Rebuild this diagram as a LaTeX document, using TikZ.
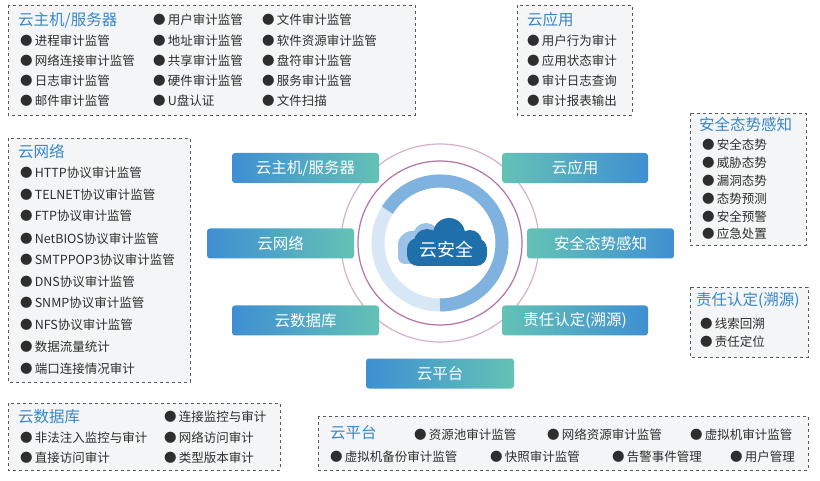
\documentclass[tikz,border=0pt]{standalone}
\usepackage{fontspec}
\setmainfont{Noto Sans CJK SC}
\usetikzlibrary{shapes.geometric}
\definecolor{tblue}{HTML}{3A86C6}
\definecolor{pblue}{HTML}{3F8FD2}
\definecolor{pteal}{HTML}{63C2B6}
\definecolor{txt}{HTML}{2E2E2E}
\definecolor{boxbg}{HTML}{F4F5F6}
\definecolor{ringd}{HTML}{7FB2DE}
\definecolor{ringl}{HTML}{D8E7F5}
\definecolor{purp}{HTML}{A0508F}
\definecolor{cloudd}{HTML}{1F70AA}
\definecolor{cloudl}{HTML}{9CC3E6}
\tikzset{
 grp/.style={draw=gray!70!black,dashed,fill=boxbg,line width=0.8pt},
 ttl/.style={anchor=west,text=tblue,font=\fontsize{15.5}{15.5}\selectfont,inner sep=0pt},
 it/.style={anchor=west,text=txt,font=\fontsize{12.5}{12.5}\selectfont,inner sep=0pt},
 pillL/.style={rounded corners=3pt,left color=pblue,right color=pteal,draw=none},
 pillR/.style={rounded corners=3pt,left color=pteal,right color=pblue,draw=none},
 pl/.style={text=white,font=\fontsize{15.5}{15.5}\selectfont,inner sep=0pt}
}
\newcommand\li[3]{\node[it] (#1) at (#2) {●\,#3};}
\begin{document}
\begin{tikzpicture}[x=1pt,y=-1pt]
\useasboundingbox[fill=white] (0,0) rectangle (820,481);
% groups
\draw[grp] (8,5) rectangle (415,115);
\node[ttl] (t1) at (18,20) {云主机/服务器};
\li{a1}{20,41}{进程审计监管}\li{a2}{20,61}{网络连接审计监管}\li{a3}{20,81}{日志审计监管}\li{a4}{20,101}{邮件审计监管}
\li{a5}{153,20}{用户审计监管}\li{a6}{153,41}{地址审计监管}\li{a7}{153,61}{共享审计监管}\li{a8}{153,81}{硬件审计监管}\li{a9}{153,101}{U盘认证}
\li{a10}{262,20}{文件审计监管}\li{a11}{262,41}{软件资源审计监管}\li{a12}{262,61}{盘符审计监管}\li{a13}{262,81}{服务审计监管}\li{a14}{262,101}{文件扫描}
\draw[grp] (517,5) rectangle (632,115);
\node[ttl] (t2) at (527,20) {云应用};
\li{b1}{527,41}{用户行为审计}\li{b2}{527,61}{应用状态审计}\li{b3}{527,81}{审计日志查询}\li{b4}{527,101}{审计报表输出}
\draw[grp] (690,113) rectangle (806,245);
\node[ttl] (t3) at (699,125) {安全态势感知};
\li{c1}{702,145}{安全态势}\li{c2}{702,163}{威胁态势}\li{c3}{702,181}{漏洞态势}\li{c4}{702,199}{态势预测}\li{c5}{702,217}{安全预警}\li{c6}{702,234}{应急处置}
\draw[grp] (690,287) rectangle (808,357);
\node[ttl] (t4) at (696,300) {责任认定(溯源)};
\li{d1}{700,324}{线索回溯}\li{d2}{700,342}{责任定位}
\draw[grp] (8,138) rectangle (190,382);
\node[ttl] (t5) at (18,152) {云网络};
\li{e1}{20,173}{HTTP协议审计监管}\li{e2}{20,195}{TELNET协议审计监管}\li{e3}{20,216}{FTP协议审计监管}\li{e4}{20,239}{NetBIOS协议审计监管}\li{e5}{20,260}{SMTPPOP3协议审计监管}
\li{e6}{20,282}{DNS协议审计监管}\li{e7}{20,303}{SNMP协议审计监管}\li{e8}{20,325}{NFS协议审计监管}\li{e9}{20,347}{数据流量统计}\li{e10}{20,369}{端口连接情况审计}
\draw[grp] (8,403) rectangle (280,470);
\node[ttl] (t6) at (18,417) {云数据库};
\li{f1}{20,438}{非法注入监控与审计}\li{f2}{20,458}{直接访问审计}
\li{f3}{164,417}{连接监控与审计}\li{f4}{164,438}{网络访问审计}\li{f5}{164,458}{类型版本审计}
\draw[grp] (318,416) rectangle (808,470);
\node[ttl] (t7) at (330,433) {云平台};
\li{g1}{414,435}{资源池审计监管}\li{g2}{547,435}{网络资源审计监管}\li{g3}{690,435}{虚拟机审计监管}
\li{g4}{330,457}{虚拟机备份审计监管}\li{g5}{490,457}{快照审计监管}\li{g6}{612,457}{告警事件管理}\li{g7}{730,457}{用户管理}
% circles
\coordinate (O) at (440,243);
\draw[purp!45,line width=1.2pt] (O) circle[radius=99];
\draw[purp!80,line width=1.2pt] (O) circle[radius=82];
\draw[ringl,line width=13pt] (O) circle[radius=62];
\draw[ringd,line width=13pt] (O) ++(90:62) arc[start angle=90,end angle=-148,radius=62];
% cloud
\fill[cloudl] (412,245) circle[radius=14];
\fill[cloudl] (426,236) circle[radius=13];
\fill[cloudl, rounded corners=7pt] (398,240) rectangle (432,264);
\fill[cloudd] (427,242) circle[radius=13];
\fill[cloudd] (449,234) circle[radius=16];
\fill[cloudd] (470,242) circle[radius=12];
\fill[cloudd,rounded corners=11pt] (407,238) rectangle (487,266);
\node[pl,font=\fontsize{18}{18}\selectfont] (cs) at (446,250) {云安全};
% pills
\node[pillL,minimum width=147pt,minimum height=30pt] (p1) at (305.5,168) {};
\node[pl] at (p1) {云主机/服务器};
\node[pillR,minimum width=146pt,minimum height=30pt] (p2) at (575,168) {};
\node[pl] at (p2) {云应用};
\node[pillL,minimum width=147pt,minimum height=30pt] (p3) at (280.5,243.5) {};
\node[pl] at (p3) {云网络};
\node[pillR,minimum width=147pt,minimum height=30pt] (p4) at (600.5,243.5) {};
\node[pl] at (p4) {安全态势感知};
\node[pillL,minimum width=147pt,minimum height=30pt] (p5) at (305.5,320.5) {};
\node[pl] at (p5) {云数据库};
\node[pillR,minimum width=146pt,minimum height=30pt] (p6) at (575,320.5) {};
\node[pl] at (p6) {责任认定(溯源)};
\node[pillL,minimum width=148pt,minimum height=30pt] (p7) at (440,373.5) {};
\node[pl] at (p7) {云平台};
\end{tikzpicture}
\end{document}
